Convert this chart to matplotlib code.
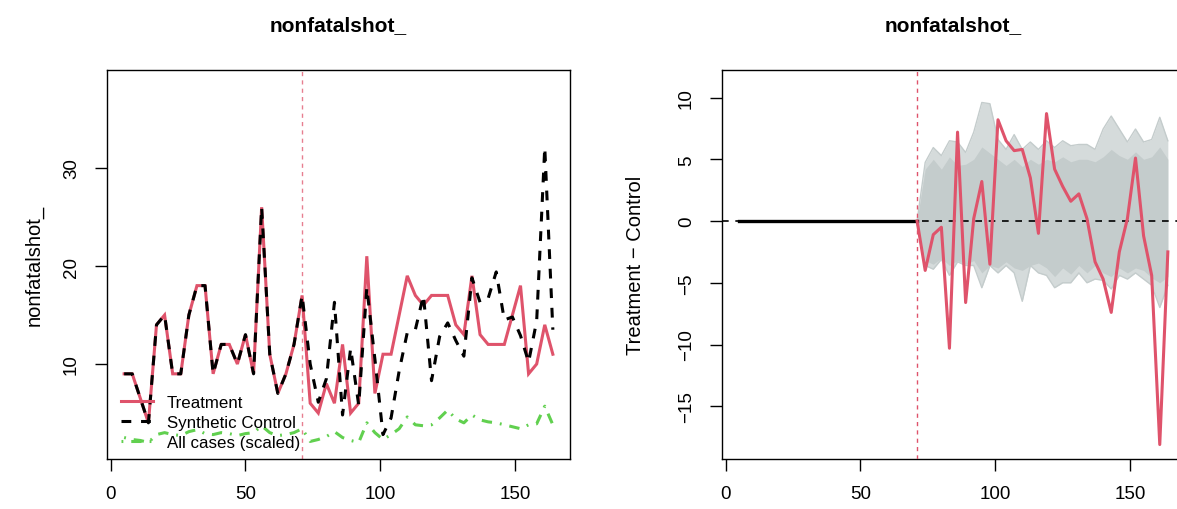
import numpy as np
import matplotlib
matplotlib.use("Agg")
import matplotlib.pyplot as plt
from matplotlib.lines import Line2D

plt.rcParams['font.family'] = ['Liberation Sans', 'DejaVu Sans']

# ---- data ----
time_pre = list(range(5, 72, 3))          # 5 .. 71
time_post = list(range(74, 165, 3))       # 74 .. 164
intervention = 71

treat_pre = [9, 9, 6.5, 4, 14, 15, 9, 9, 15, 18, 18, 9, 12, 12, 10, 13, 9, 26, 11, 7, 9, 12, 17]
synth_pre = [9, 9, 6.5, 4, 14, 15, 9, 9, 15, 18, 18, 9, 12, 12, 10, 13, 9, 26, 11, 7, 9, 12, 17]
treat_post = [6, 5, 8, 6, 12, 5, 6, 21, 7, 11, 11, 15, 19, 17, 16, 17, 17, 17, 14, 13,
              19, 13, 12, 12, 12, 15, 18, 9, 10, 14, 11]
synth_post = [10, 6.1, 8.5, 16.3, 4.8, 11.6, 5.8, 17.8, 10.5, 2.8, 4.5, 9.3, 13.2, 13.5, 17.0,
              8.3, 12.8, 14.2, 12.4, 10.8, 18.8, 16.3, 16.7, 19.4, 14.5, 14.8, 12.9, 10.2, 14.4,
              32.1, 13.5]
allcases_pre = [2.5, 2.3, 2.2, 2.0, 2.8, 3.0, 2.8, 2.7, 3.1, 3.3, 2.9, 2.8, 3.0, 2.9, 2.7,
                2.9, 3.0, 3.7, 3.0, 2.7, 2.8, 3.0, 3.4]
allcases_post = [2.1, 2.3, 2.6, 3.1, 2.5, 2.2, 2.0, 4.0, 3.0, 2.3, 2.8, 3.4, 4.6, 3.8, 3.7,
                 3.8, 4.5, 5.3, 4.4, 4.0, 4.8, 4.3, 4.1, 4.0, 3.8, 3.6, 3.4, 3.8, 3.9, 5.7, 3.8]

# placebo distribution (right panel), x = 71 .. 164
placebo_core_hi = [0, 4.2, 5.0, 4.2, 5.2, 4.5, 4.6, 5.0, 6.0, 5.5, 5.0, 4.5, 5.0, 4.4, 5.0, 4.6,
                   5.0, 4.8, 5.2, 4.8, 5.0, 5.0, 4.8, 5.2, 5.8, 5.3, 5.0, 5.6, 5.0, 5.2, 6.0, 5.0]
placebo_core_lo = [0, -3.2, -3.5, -3.0, -3.6, -3.2, -3.5, -3.2, -4.2, -3.6, -3.8, -3.3, -3.8,
                   -4.0, -3.6, -3.4, -3.8, -4.5, -3.8, -4.3, -3.6, -4.2, -3.6, -4.2, -4.5, -3.8,
                   -4.2, -3.8, -4.0, -4.6, -5.0, -4.5]
placebo_max = [0, 4.75, 5.95, 5.3, 6.5, 6.4, 5.55, 7.2, 9.6, 9.5, 6.6, 5.8, 7.0, 5.8, 6.4, 5.8,
               6.5, 5.95, 6.5, 6.1, 6.2, 6.2, 5.8, 7.45, 8.5, 7.45, 6.4, 7.45, 6.4, 6.6, 8.4, 6.5]
placebo_min = [0, -3.6, -3.9, -3.1, -4.4, -3.3, -3.6, -3.6, -5.4, -3.6, -4.2, -3.6, -4.2, -6.5,
               -3.6, -4.2, -4.4, -5.4, -5.0, -5.0, -4.2, -5.0, -4.7, -4.8, -5.5, -4.4, -4.7,
               -4.2, -4.7, -5.2, -7.0, -5.2]

title = "nonfatalshot_"
ylab_left = "nonfatalshot_"
ylab_right = "Treatment \u2212 Control"
legend_labels = ["Treatment", "Synthetic Control", "All cases (scaled)"]
xticks = [0, 50, 100, 150]
yticks_left = [10, 20, 30]
yticks_right = [-15, -10, -5, 0, 5, 10]

RED = "#DF536B"
GREEN = "#61D04F"
GRAY = "#C4CCCC"

time_all = np.array(time_pre + time_post)
treat = np.array(treat_pre + treat_post)
synth = np.array(synth_pre + synth_post)
allcases = np.array(allcases_pre + allcases_post)
diff = treat - synth

fig = plt.figure(figsize=(11.77, 5.10), dpi=100)
W, H = 1177, 510
axL = fig.add_axes([107 / W, (510 - 460) / H, 463 / W, 389 / H])
axR = fig.add_axes([722 / W, (510 - 460) / H, 463 / W, 389 / H])

xr = time_all.max() - time_all.min()
xlim = (time_all.min() - 0.04 * xr, time_all.max() + 0.04 * xr)

tick_fs = 13.5
lab_fs = 14.5
# ---- left panel ----
axL.plot(time_all, treat, color=RED, lw=2.2, solid_joinstyle='miter', zorder=3)
axL.plot(time_all, synth, color='black', lw=2.2, dashes=(3.2, 3.2), zorder=4)
axL.plot(time_all, allcases, color=GREEN, lw=2.2, dashes=(0.6, 2.6, 3.4, 2.6), zorder=2)
axL.axvline(intervention, color=RED, lw=1.0, ls=(0, (3, 3)), alpha=0.75, zorder=1)
axL.set_xlim(xlim)
axL.set_ylim(0.31, 40.0)
axL.set_xticks(xticks)
axL.set_yticks(yticks_left)
axL.set_title(title, fontsize=15, fontweight='bold', pad=29)
axL.set_ylabel(ylab_left, fontsize=lab_fs)
axL.yaxis.set_label_coords(-0.136, 0.5)

handles = [Line2D([], [], color=RED, lw=2.2),
           Line2D([], [], color='black', lw=2.2, dashes=(3.2, 3.2)),
           Line2D([], [], color=GREEN, lw=2.2, dashes=(0.6, 2.6, 3.4, 2.6))]
axL.legend(handles, legend_labels, loc='lower left', bbox_to_anchor=(0.031, 0.023),
           frameon=False, fontsize=12.2, handlelength=1.85, handletextpad=0.83,
           labelspacing=0.31, borderpad=0, borderaxespad=0)

# ---- right panel ----
t_post_full = [intervention] + time_post
axR.fill_between(t_post_full, placebo_min, placebo_max, color=GRAY, alpha=0.7, lw=0, zorder=1)
axR.fill_between(t_post_full, placebo_core_lo, placebo_core_hi, color=GRAY, lw=0, zorder=1)
axR.plot(t_post_full, placebo_max, color=GRAY, lw=1.0, zorder=1)
axR.plot(t_post_full, placebo_min, color=GRAY, lw=1.0, zorder=1)
axR.axhline(0, color='black', lw=1.2, ls=(0, (4, 4)), zorder=2)
pre_mask = time_all <= intervention
post_mask = time_all >= intervention
axR.plot(time_all[pre_mask], diff[pre_mask], color='black', lw=2.4, zorder=3)
axR.plot(time_all[post_mask], diff[post_mask], color=RED, lw=2.2, zorder=4)
axR.axvline(intervention, color=RED, lw=1.0, ls=(0, (3, 3)), zorder=5)
axR.set_xlim(xlim)
axR.set_ylim(-19.27, 12.23)
axR.set_xticks(xticks)
axR.set_yticks(yticks_right)
axR.set_yticklabels([str(v).replace('-', '\u2212') for v in yticks_right])
axR.set_title(title, fontsize=15, fontweight='bold', pad=29)
axR.set_ylabel(ylab_right, fontsize=lab_fs)
axR.yaxis.set_label_coords(-0.166, 0.5)

for ax in (axL, axR):
    for s in ax.spines.values():
        s.set_linewidth(1.0)
    ax.tick_params(axis='both', direction='out', length=8.5, width=1.0, labelsize=tick_fs)
    ax.tick_params(axis='x', pad=10)
    ax.tick_params(axis='y', pad=11)
    for lab in ax.get_yticklabels():
        lab.set_rotation(90)
        lab.set_va('center')

fig.savefig("out.png", dpi=100)
